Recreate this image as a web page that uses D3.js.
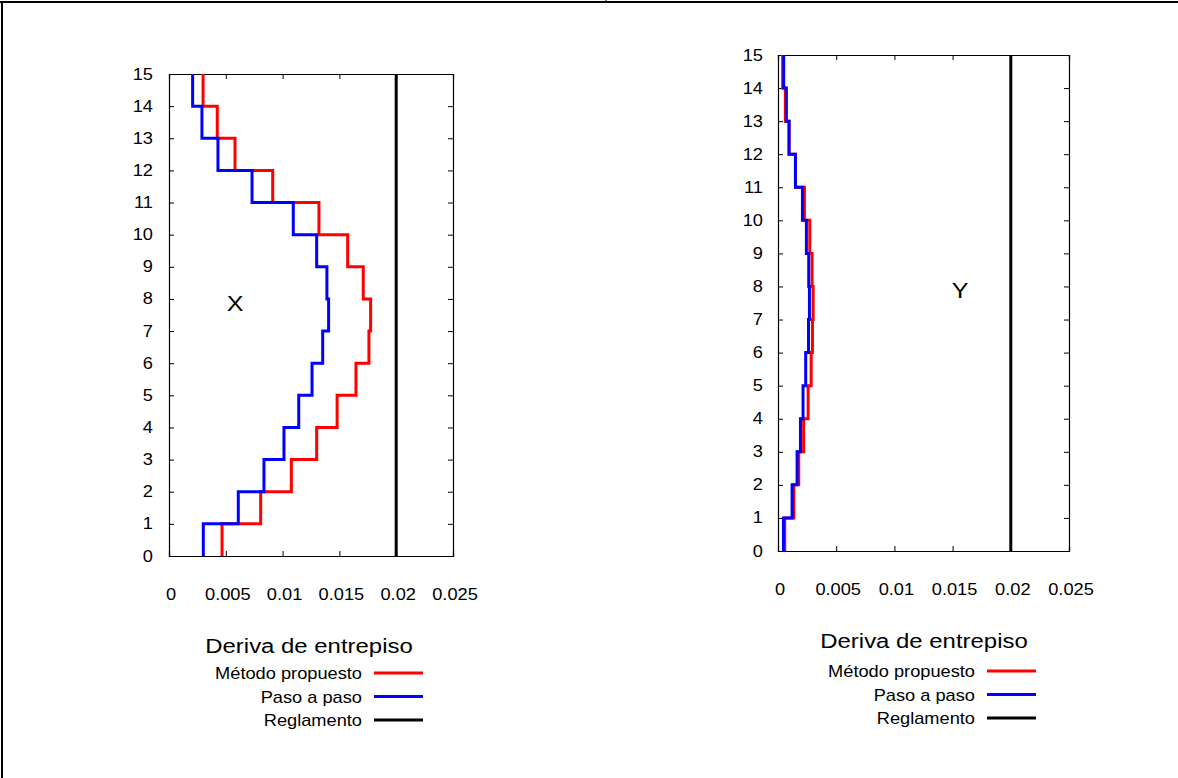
<!DOCTYPE html>
<html>
<head>
<meta charset="utf-8">
<script src="https://cdn.jsdelivr.net/npm/d3@7"></script>
<style>
  body { margin: 0; background: #fff; }
  svg { display: block; font-family: "Liberation Sans", Arial, sans-serif; }
</style>
</head>
<body>
<svg id="chart" width="1178" height="778"></svg>
<script>
// stories 1..15, drift per story (from y = i-1 to y = i)
const stories = [1, 2, 3, 4, 5, 6, 7, 8, 9, 10, 11, 12, 13, 14, 15];
const xTicks = [0, 0.005, 0.01, 0.015, 0.02, 0.025];
const yTicks = [0, 1, 2, 3, 4, 5, 6, 7, 8, 9, 10, 11, 12, 13, 14, 15];
const limit = 0.02;

const propuestoX = [0.00467, 0.00807, 0.01077, 0.0130, 0.0148, 0.01646, 0.0176, 0.01775, 0.0171, 0.01573, 0.0132, 0.00913, 0.00581, 0.00425, 0.0030];
const pasoX      = [0.00302, 0.0061, 0.00836, 0.01012, 0.01142, 0.01259, 0.01353, 0.01405, 0.0139, 0.0130, 0.01094, 0.00731, 0.00431, 0.0029, 0.00208];

const propuestoY = [0.00058, 0.00136, 0.00178, 0.0022, 0.00259, 0.00285, 0.00296, 0.00302, 0.00293, 0.00273, 0.00227, 0.0015, 0.00095, 0.00063, 0.0004];
const pasoY      = [0.00047, 0.00121, 0.00164, 0.00193, 0.00215, 0.00238, 0.00262, 0.0027, 0.00264, 0.00244, 0.0021, 0.0015, 0.00095, 0.00072, 0.00049];

const legendNames = ["Método propuesto", "Paso a paso", "Reglamento"];
const colors = ["#ff0000", "#0000ff", "#000000"];

// the original text is a bit wider than Arial
const stretch = 1.14;

const svg = d3.select("#chart");

// page frame
svg.append("line").attr("x1", 0).attr("x2", 1178).attr("y1", 2).attr("y2", 2)
    .attr("stroke", "#000").attr("stroke-width", 2);
svg.append("line").attr("x1", 2).attr("x2", 2).attr("y1", 1).attr("y2", 778)
    .attr("stroke", "#000").attr("stroke-width", 2);
svg.append("line").attr("x1", 606).attr("x2", 606).attr("y1", 0).attr("y2", 2)
    .attr("stroke", "#000").attr("stroke-width", 1);

function wideText(parent, x, y, str, size, anchor) {
    return parent.append("text")
        .attr("transform", "translate(" + x + "," + y + ") scale(" + stretch + ",1)")
        .attr("text-anchor", anchor)
        .attr("font-size", size)
        .attr("fill", "#000")
        .text(str);
}

function drawPanel(opt) {
    let x = d3.scaleLinear().domain([0, 0.025]).range([opt.left, opt.right]);
    let y = d3.scaleLinear().domain([0, 15]).range([opt.bottom, opt.top]);
    let g = svg.append("g");

    let fmt = d => d === 0 ? "0" : String(d);

    // inward ticks on all four sides, labels only bottom and left
    let bottomAx = g.append("g")
        .attr("transform", "translate(0," + opt.bottom + ")")
        .call(d3.axisBottom(x).tickValues(xTicks).tickSize(-5).tickFormat(""));
    let topAx = g.append("g")
        .attr("transform", "translate(0," + opt.top + ")")
        .call(d3.axisTop(x).tickValues(xTicks).tickSize(-5).tickFormat(""));
    let leftAx = g.append("g")
        .attr("transform", "translate(" + opt.left + ",0)")
        .call(d3.axisLeft(y).tickValues(yTicks).tickSize(-5).tickFormat(""));
    let rightAx = g.append("g")
        .attr("transform", "translate(" + opt.right + ",0)")
        .call(d3.axisRight(y).tickValues(yTicks).tickSize(-5).tickFormat(""));

    [bottomAx, topAx, leftAx, rightAx].forEach(a => {
        a.select(".domain").attr("stroke", "#000").attr("stroke-width", 1.2);
        a.selectAll(".tick line").attr("stroke", "#000");
        a.selectAll(".tick text").remove();
    });

    // tick labels from the same scales
    xTicks.forEach(t => {
        wideText(g, x(t) + 2, opt.bottom + 44, fmt(t), 16, "middle");
    });
    yTicks.forEach(t => {
        wideText(g, opt.left - opt.yPad, y(t) + 5.5, fmt(t), 16, "end");
    });

    let line = d3.line().x(d => x(d[0])).y(d => y(d[1]));

    function steps(vals) {
        let pts = [];
        vals.forEach((v, i) => {
            pts.push([v, stories[i] - 1]);
            pts.push([v, stories[i]]);
        });
        return pts;
    }

    // reglamento limit
    g.append("path")
        .attr("d", line([[limit, 0], [limit, 15]]))
        .attr("stroke", colors[2]).attr("stroke-width", 3).attr("fill", "none");

    g.append("path")
        .attr("d", line(steps(opt.red)))
        .attr("stroke", colors[0]).attr("stroke-width", 3).attr("fill", "none");
    g.append("path")
        .attr("d", line(steps(opt.blue)))
        .attr("stroke", colors[1]).attr("stroke-width", 3).attr("fill", "none");

    wideText(g, opt.labelX, opt.labelY, opt.label, 22, "middle");

    // legend
    wideText(g, opt.legTitleX, opt.legTitleY, "Deriva de entrepiso", 21, "middle");

    let leg = g.selectAll(".leg")
        .data(legendNames)
        .enter().append("g")
        .attr("class", "leg")
        .attr("transform", (d, i) => "translate(0," + (opt.legY + i * 23.5) + ")");

    leg.each(function(d) {
        wideText(d3.select(this), opt.legTextX, 6, d, 16, "end");
    });

    leg.append("line")
        .attr("x1", opt.legTextX + 12).attr("x2", opt.legTextX + 61)
        .attr("y1", 0).attr("y2", 0)
        .attr("stroke", (d, i) => colors[i])
        .attr("stroke-width", 3);
}

drawPanel({
    left: 169, right: 453, top: 74, bottom: 556,
    yPad: 16,
    red: propuestoX, blue: pasoX,
    label: "X", labelX: 235, labelY: 311,
    legTitleX: 309, legTitleY: 653,
    legTextX: 362, legY: 673
});

drawPanel({
    left: 778, right: 1069, top: 55, bottom: 551,
    yPad: 15,
    red: propuestoY, blue: pasoY,
    label: "Y", labelX: 960, labelY: 298,
    legTitleX: 924, legTitleY: 648,
    legTextX: 975, legY: 671
});
</script>
</body>
</html>
